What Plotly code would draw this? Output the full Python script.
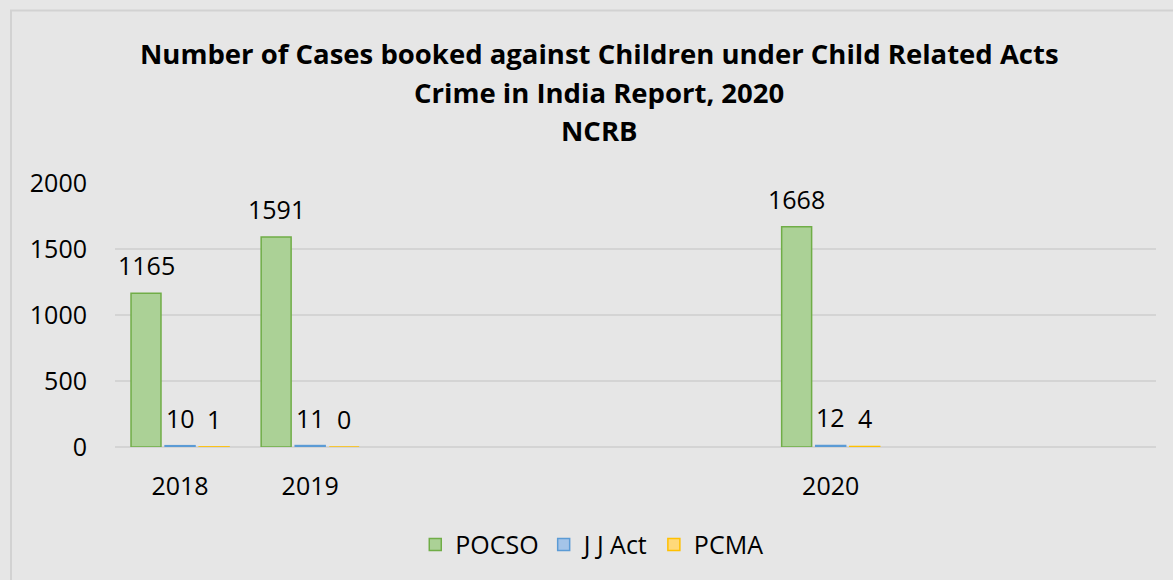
"""Cases booked against children under child related acts (NCRB, 2020)."""

import plotly.graph_objects as go

# data
title_lines = [
    "Number of Cases booked against Children under Child Related Acts",
    "Crime in India Report, 2020",
    "NCRB",
]
years = ["2018", "2019", "2020"]
slots = [0, 1, 5]  # category positions on the axis (empty slots in between)
pocso = [1165, 1591, 1668]
jj_act = [10, 11, 12]
pcma = [1, 0, 4]

series = [
    ("POCSO", pocso, "#abd196", "#70ad47"),
    ("J J Act", jj_act, "#a4c4e8", "#5b9bd5"),
    ("PCMA", pcma, "#ffd97a", "#ffc000"),
]

FONT = "Open Sans"
BG = "#e6e6e6"
BARGAP = 0.215

fig = go.Figure()
annotations = []
group_w = 1 - BARGAP
n = len(series)
for i, (name, vals, fill, edge) in enumerate(series):
    fig.add_trace(
        go.Bar(
            x=slots,
            y=vals,
            name=name,
            marker=dict(color=fill, line=dict(color=edge, width=1.5)),
        )
    )
    # data labels sit a fixed distance above each bar (like Excel's outside end)
    off = (i - (n - 1) / 2) * group_w / n
    for s, v in zip(slots, vals):
        annotations.append(dict(
            x=s + off, y=v, xref="x", yref="y",
            text=str(v), showarrow=False,
            yanchor="middle", yshift=28,
            font=dict(family=FONT, size=25, color="#000000"),
        ))

# title, one annotation per line to get Excel's line pitch
for k, line in enumerate(title_lines):
    annotations.append(dict(
        x=0.465, y=1.491 - k * 0.1465, xref="paper", yref="paper",
        text=f"<b>{line}</b>", showarrow=False,
        xanchor="center", yanchor="middle",
        font=dict(family=FONT, size=27.5, color="#000000"),
    ))

fig.update_layout(
    width=1173,
    height=580,
    barmode="group",
    bargap=BARGAP,
    bargroupgap=0.12,
    paper_bgcolor=BG,
    plot_bgcolor=BG,
    margin=dict(l=115, r=17, t=183, b=133),
    font=dict(family=FONT, size=25, color="#000000"),
    annotations=annotations,
    legend=dict(
        orientation="h",
        x=0.458, xanchor="center",
        y=-0.37, yanchor="middle",
        font=dict(family=FONT, size=25),
        bgcolor="rgba(0,0,0,0)",
        itemwidth=30,
    ),
    shapes=[
        dict(
            type="rect", xref="paper", yref="paper",
            x0=-0.0999, x1=1.2, y0=-1.0, y1=1.653,
            line=dict(color="#d2d2d2", width=2),
            fillcolor="rgba(0,0,0,0)", layer="below",
        )
    ],
)

fig.update_xaxes(
    range=[-0.5, 7.5],
    tickvals=slots,
    ticktext=years,
    showgrid=False,
    zeroline=False,
    showline=False,
    ticks="",
    ticklabelstandoff=22,
)
fig.update_yaxes(
    range=[0, 2000],
    tickvals=[0, 500, 1000, 1500, 2000],
    showgrid=True,
    gridcolor="#d4d4d4",
    gridwidth=1.5,
    zeroline=True,
    zerolinecolor="#d4d4d4",
    zerolinewidth=1.5,
    showline=False,
    ticks="",
    ticklabelstandoff=27,
)

fig.write_html(
    "out.html",
    config={"displayModeBar": False},
    post_script="document.body.style.margin='0';",
)
